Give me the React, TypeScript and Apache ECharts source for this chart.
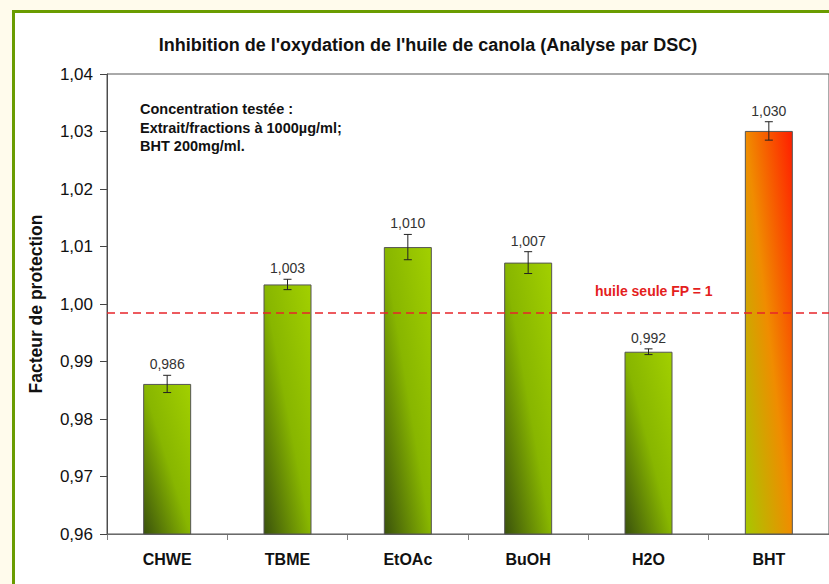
import React, { useEffect, useRef } from "react";
import * as echarts from "echarts";

const categories = ["CHWE", "TBME", "EtOAc", "BuOH", "H2O", "BHT"];
const values = [0.9861, 1.0034, 1.0099, 1.0072, 0.9917, 1.0301];
const errors = [0.0015, 0.0009, 0.0022, 0.0019, 0.0005, 0.0016];
const referenceLine = 0.9984;
const yTicks = { min: 0.96, max: 1.04, interval: 0.01 };
const titleText = "Inhibition de l'oxydation de l'huile de canola (Analyse par DSC)";
const noteLines = ["Concentration testée :", "Extrait/fractions à 1000µg/ml;", "BHT 200mg/ml."];
const refLabel = "huile seule FP = 1";
const yName = "Facteur de protection";

const FONT = "Liberation Sans, Arial, sans-serif";
const RED = "#e8242a";

const greenGrad = () =>
  new echarts.graphic.LinearGradient(0, 1, 1, 0, [
    { offset: 0, color: "#3a520c" },
    { offset: 0.5, color: "#88b600" },
    { offset: 1, color: "#a2d000" },
  ]);
const redGrad = () =>
  new echarts.graphic.LinearGradient(0, 1, 1, 0, [
    { offset: 0, color: "#a6c800" },
    { offset: 0.5, color: "#f08c00" },
    { offset: 1, color: "#ff1e00" },
  ]);

const fmt = (v: number, d: number) => v.toFixed(d).replace(".", ",");

export default function App() {
  const ref = useRef<HTMLDivElement>(null);
  useEffect(() => {
    if (!ref.current) return;
    const chart = echarts.init(ref.current, null, { renderer: "svg" });
    const option: any = {
      animation: false,
      backgroundColor: "#fffbec",
      grid: {
        left: 107,
        right: -1,
        top: 74,
        bottom: 50,
        show: true,
        borderColor: "#555",
        borderWidth: 1,
        backgroundColor: "transparent",
        z: 1,
      },
      graphic: [
        {
          type: "rect",
          z: -10,
          shape: { x: 13.5, y: 11.5, width: 900, height: 700 },
          style: { fill: "#ffffff", stroke: "#6a9c00", lineWidth: 3 },
        },
        {
          type: "text",
          x: 428,
          y: 45,
          style: {
            text: titleText,
            font: `bold 18px ${FONT}`,
            fill: "#111",
            textAlign: "center",
            textVerticalAlign: "middle",
          },
        },
        {
          type: "text",
          x: 140,
          y: 100,
          style: {
            text: noteLines.join("\n"),
            font: `bold 14.5px ${FONT}`,
            lineHeight: 18.5,
            fill: "#111",
            textAlign: "left",
            textVerticalAlign: "top",
          },
        },
        {
          type: "text",
          x: 595,
          y: 291,
          style: {
            text: refLabel,
            font: `bold 14px ${FONT}`,
            fill: "#e4201c",
            textAlign: "left",
            textVerticalAlign: "middle",
          },
        },
      ],
      xAxis: {
        type: "category",
        data: categories,
        axisLine: { lineStyle: { color: "#808080", width: 1 } },
        axisTick: { show: true, length: 6, lineStyle: { color: "#808080" } },
        axisLabel: {
          fontFamily: FONT,
          fontWeight: "bold",
          fontSize: 16,
          color: "#111",
          margin: 17,
        },
      },
      yAxis: {
        type: "value",
        min: yTicks.min,
        max: yTicks.max,
        interval: yTicks.interval,
        name: yName,
        nameLocation: "middle",
        nameGap: 62,
        nameTextStyle: { fontFamily: FONT, fontWeight: "bold", fontSize: 17.5, color: "#111" },
        axisLine: { show: true, lineStyle: { color: "#444", width: 1 } },
        axisTick: { show: true, length: 7, inside: false, lineStyle: { color: "#444" } },
        splitLine: { show: false },
        axisLabel: {
          fontFamily: FONT,
          fontSize: 17,
          color: "#111",
          margin: 14,
          formatter: (v: number) => fmt(v, 2),
        },
      },
      series: [
        {
          type: "bar",
          barWidth: 48,
          z: 2,
          data: values.map((v, i) => ({
            value: v,
            itemStyle: {
              color: categories[i] === "BHT" ? redGrad() : greenGrad(),
              borderColor: "#555",
              borderWidth: 1,
            },
          })),
        },
        {
          type: "custom",
          z: 4,
          silent: true,
          data: [[0, referenceLine]],
          renderItem: (params: any, api: any) => {
            const cs = params.coordSys;
            const p = api.coord([0, api.value(1)]);
            const y = Math.round(p[1]);
            return {
              type: "line",
              shape: { x1: cs.x, y1: y, x2: cs.x + cs.width, y2: y },
              style: { stroke: RED, lineWidth: 1.6, lineDash: [8, 5], fill: null },
            };
          },
        },
        {
          type: "custom",
          z: 5,
          data: values.map((v, i) => [i, v, errors[i]]),
          renderItem: (params: any, api: any) => {
            const idx = api.value(0);
            const v = api.value(1);
            const e = api.value(2);
            const top = api.coord([idx, v + e]);
            const bot = api.coord([idx, v - e]);
            const x = top[0];
            const hw = 4;
            return {
              type: "group",
              children: [
                { type: "line", shape: { x1: x, y1: top[1], x2: x, y2: bot[1] }, style: { stroke: "#222", lineWidth: 1 } },
                { type: "line", shape: { x1: x - hw, y1: top[1], x2: x + hw, y2: top[1] }, style: { stroke: "#222", lineWidth: 1 } },
                { type: "line", shape: { x1: x - hw, y1: bot[1], x2: x + hw, y2: bot[1] }, style: { stroke: "#222", lineWidth: 1 } },
                {
                  type: "text",
                  x: x,
                  y: top[1] - 11,
                  style: {
                    text: fmt(v, 3),
                    font: `14px ${FONT}`,
                    fill: "#333",
                    textAlign: "center",
                    textVerticalAlign: "middle",
                  },
                },
              ],
            };
          },
        },
      ],
    };
    chart.setOption(option);
    return () => chart.dispose();
  }, []);
  return (
    <div
      ref={ref}
      style={{ position: "absolute", left: 0, top: 0, width: 829, height: 584 }}
    />
  );
}
